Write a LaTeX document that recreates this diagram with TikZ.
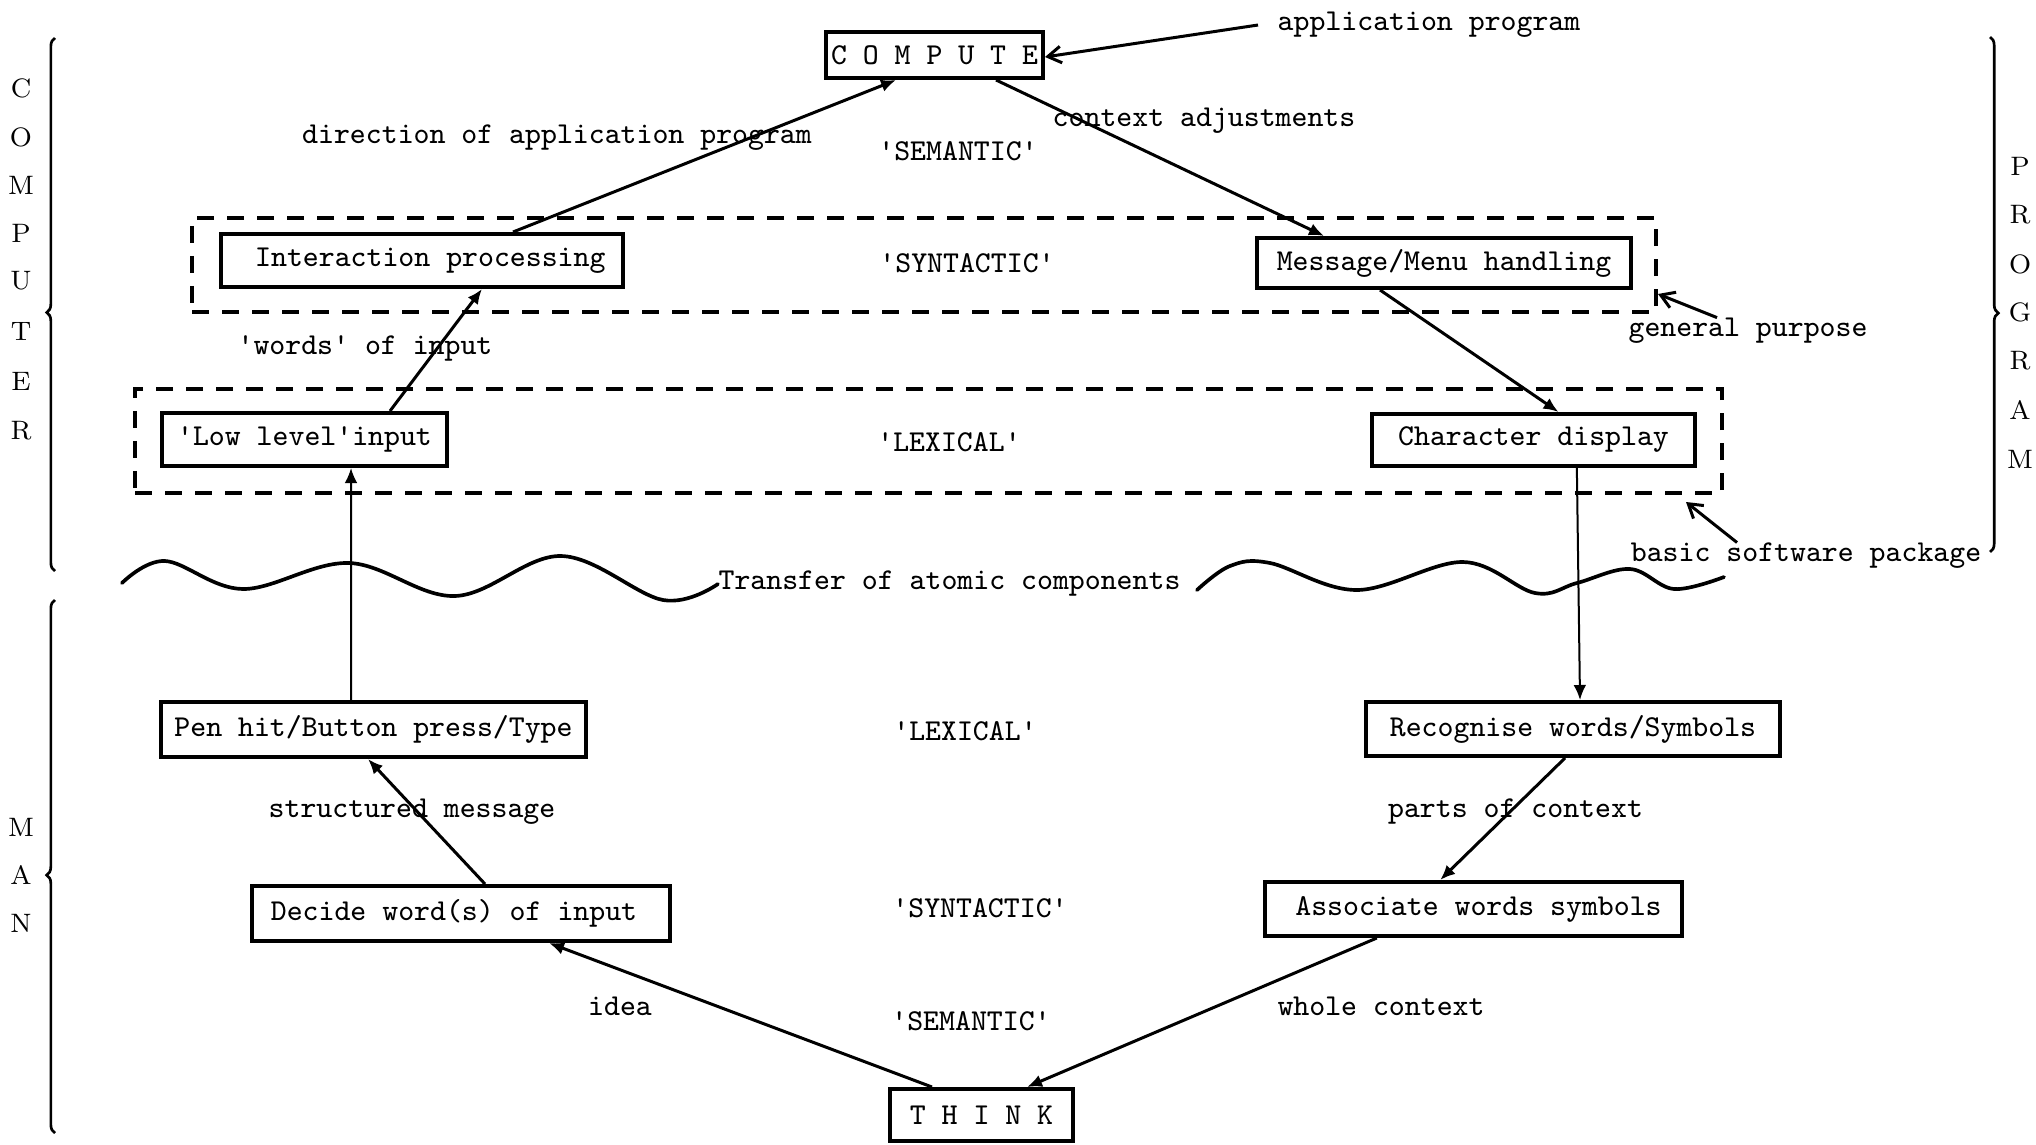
\documentclass[tikz,border=0pt]{standalone}
\usetikzlibrary{arrows.meta,decorations.pathreplacing}
\newcommand\tq{\textquotesingle}
\newcommand\upx{0.3pt}
\begin{document}
\begin{tikzpicture}[x=0.3pt,y=-0.3pt]
\tikzset{
  txt/.style={font=\fontsize{9.1}{11}\selectfont\ttfamily, inner sep=0pt},
  box/.style={txt, draw, line width=1.2pt},
  grp/.style={draw, dash pattern=on 5pt off 4pt, line width=1.2pt, inner sep=0pt},
  flow/.style={line width=0.9pt, -{Latex[length=4.5pt,width=3.8pt]}},
  note/.style={line width=0.9pt, -{Straight Barb[length=4pt,width=5pt]}},
  brc/.style={decorate, decoration={brace, amplitude=2.5pt}, line width=0.8pt},
  side/.style={font=\fontsize{8}{9}\selectfont\rmfamily, inner sep=0pt},
  wave/.style={line width=1.1pt, line cap=round}
}
\useasboundingbox (0,0) rectangle (2036,1144);

% dashed groupings of the computer layers
\node[grp, minimum width=1464*\upx, minimum height=94*\upx] (synframe) at (924,265) {};
\node[grp, minimum width=1587*\upx, minimum height=104*\upx] (lexframe) at (928.5,441) {};

% boxes
\node[box, minimum width=217*\upx, minimum height=46*\upx] (compute) at (934.5,55) {C O M P U T E};
\node[box, minimum width=402*\upx, minimum height=53*\upx] (interp) at (422,260.5) {\hspace*{5pt}Interaction processing};
\node[box, minimum width=374*\upx, minimum height=50*\upx] (msg) at (1444,263) {Message/Menu handling};
\node[box, minimum width=285*\upx, minimum height=53*\upx] (low) at (304.5,439.5) {\tq Low level\tq input};
\node[box, minimum width=323*\upx, minimum height=52*\upx] (chr) at (1533.5,440) {Character display};
\node[box, minimum width=425*\upx, minimum height=55*\upx] (pen) at (373.5,729.5) {Pen hit/Button press/Type};
\node[box, minimum width=414*\upx, minimum height=54*\upx] (rec) at (1573,729) {Recognise words/Symbols};
\node[box, minimum width=418*\upx, minimum height=55*\upx] (dec) at (461,913.5) {Decide word(s) of input\hspace*{4.2pt}};
\node[box, minimum width=417*\upx, minimum height=54*\upx] (asc) at (1473.5,909) {\hspace*{3pt}Associate words symbols};
\node[box, minimum width=183*\upx, minimum height=52*\upx] (think) at (981.5,1115) {T H I N K};

% labels
\node[txt] (applbl) at (1429,25) {application program};
\node[txt] (dirlbl) at (557,138) {direction of application program};
\node[txt] (sem1) at (958,151) {\tq SEMANTIC\tq};
\node[txt] (ctxlbl) at (1204,121) {context adjustments};
\node[txt] (syn1) at (967,263) {\tq SYNTACTIC\tq};
\node[txt] (wordslbl) at (365,348) {\tq words\tq{} of input};
\node[txt] (lex1) at (949,442) {\tq LEXICAL\tq};
\node[txt] (gplbl) at (1748,331) {general purpose};
\node[txt] (bsplbl) at (1806,556) {basic software package};
\node[txt] (xferlbl) at (949.5,584) {Transfer of atomic components};
\node[txt] (lex2) at (965,731) {\tq LEXICAL\tq};
\node[txt] (structlbl) at (412,812) {structured message};
\node[txt] (partslbl) at (1515.5,812) {parts of context};
\node[txt] (syn2) at (980,908) {\tq SYNTACTIC\tq};
\node[txt] (idealbl) at (620,1006) {idea};
\node[txt] (wholelbl) at (1381,1006) {whole context};
\node[txt] (sem2) at (971,1021) {\tq SEMANTIC\tq};

% flow of the dialogue
\draw[flow] ([xshift=27.3pt]interp.north) -- ([xshift=-11.55pt]compute.south);
\draw[flow] ([xshift=18.45pt]compute.south) -- ([xshift=-36pt]msg.north);
\draw[flow] ([xshift=25.65pt]low.north) -- ([xshift=18pt]interp.south);
\draw[flow] ([xshift=-19.2pt]msg.south) -- ([xshift=7.5pt]chr.north);
\draw[flow, line width=0.6pt] ([xshift=-6.75pt]pen.north) -- ([xshift=13.95pt]low.south);
\draw[flow, line width=0.6pt] ([xshift=13pt]chr.south) -- ([xshift=2.1pt]rec.north);
\draw[flow] ([xshift=7.2pt]dec.north) -- ([xshift=-1.65pt]pen.south);
\draw[flow] ([xshift=-2.4pt]rec.south) -- ([xshift=-10pt]asc.north);
\draw[flow] ([xshift=-14.85pt]think.north) -- ([xshift=26.4pt]dec.south);
\draw[flow] ([xshift=-29pt]asc.south) -- ([xshift=13.65pt]think.north);

% annotation pointers
\draw[note] ([xshift=-5.7pt]applbl.west) -- ([yshift=-0.6pt]compute.east);
\draw[note] ([xshift=-9.3pt]gplbl.north) -- ([yshift=-8.7pt]synframe.east);
\draw[note] ([xshift=-20.7pt]bsplbl.north) -- ([xshift=-11.4pt,yshift=-2.1pt]lexframe.south east);

% boundary between man and computer
\draw[wave] plot[smooth, tension=0.6] coordinates {(122,583) (165,561) (243,589) (349,563) (455,596) (561,556) (663,600) (xferlbl.west)};
\draw[wave] plot[smooth, tension=0.6] coordinates {(1197,590) (1230,566) (1270,563) (1357,590) (1463,562) (1535,593) (1577,583) (1630,569) (1674,589) (1724,577)};

% side braces
\draw[brc, decoration={aspect=0.485}] (55,571) -- (55,38);
\draw[brc, decoration={aspect=0.484}] (55,1133) -- (55,600);
\draw[brc, decoration={aspect=0.536}] (1990,37) -- (1990,552);
\foreach \ch/\yy [count=\i] in {C/88,O/137,M/185,P/233,U/281,T/331,E/381,R/431}
  \node[side] (cl\i) at (21,\yy) {\ch};
\foreach \ch/\yy [count=\i] in {M/827,A/875,N/923}
  \node[side] (ml\i) at (21,\yy) {\ch};
\foreach \ch/\yy [count=\i] in {P/166,R/215,O/264,G/312,R/361,A/410,M/459}
  \node[side] (pl\i) at (2020,\yy) {\ch};
\end{tikzpicture}
\end{document}
